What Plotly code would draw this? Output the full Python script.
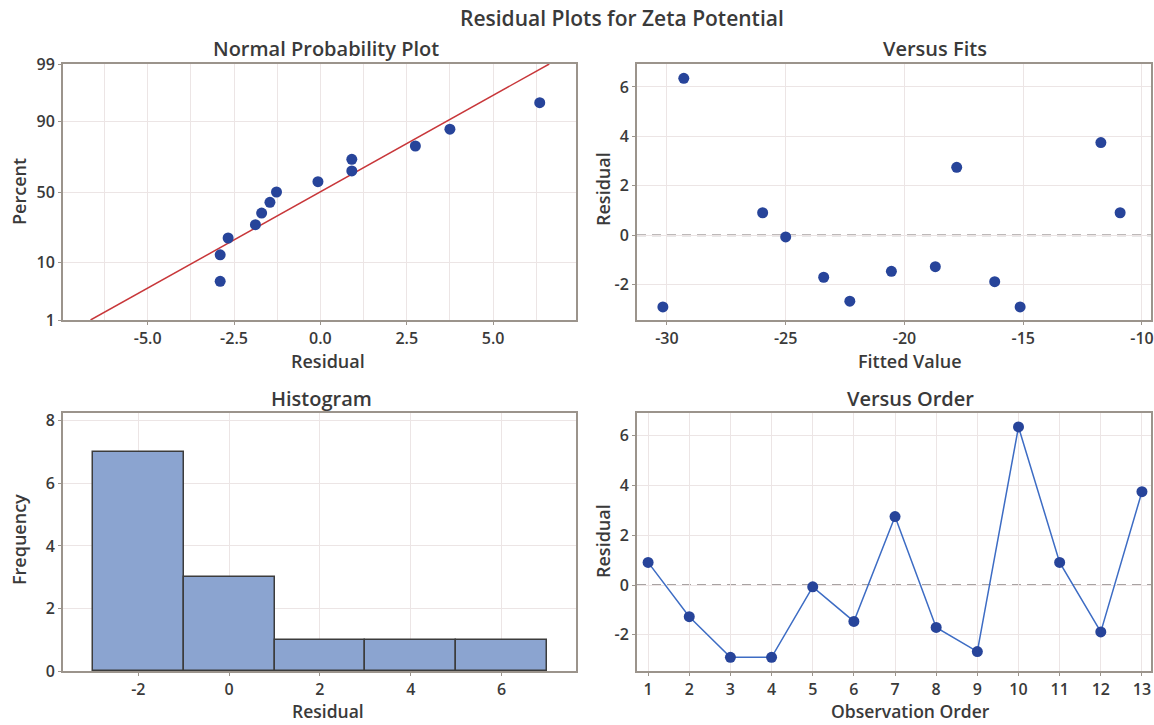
import plotly.graph_objects as go
from statistics import NormalDist, mean, stdev

# ---------------- data ----------------
observation = list(range(1, 14))
residuals = [0.91, -1.27, -2.90, -2.90, -0.07, -1.46, 2.75, -1.70, -2.67, 6.35, 0.91, -1.88, 3.75]
fitted = [-25.97, -18.70, -30.17, -15.13, -25.00, -20.55, -17.80, -23.40, -22.30, -29.29, -10.92, -16.20, -11.73]
percent_ticks = [1, 10, 50, 90, 99]
hist_bin_start = -3
hist_bin_end = 7
hist_bin_size = 2
hist_ticks = [-2, 0, 2, 4, 6]
npp_ticks = [-5.0, -2.5, 0.0, 2.5, 5.0]
fit_ticks = [-30, -25, -20, -15, -10]
res_ticks = [-2, 0, 2, 4, 6]
freq_ticks = [0, 2, 4, 6, 8]

# normal probability plot positions (Benard median ranks)
nd = NormalDist()
n = len(residuals)
sorted_res = sorted(residuals)
npp_z = [nd.inv_cdf((i - 0.3) / (n + 0.4)) for i in range(1, n + 1)]
tick_z = [nd.inv_cdf(p / 100) for p in percent_ticks]
mu, sd = mean(residuals), stdev(residuals)
line_z = [nd.inv_cdf(0.01), nd.inv_cdf(0.99)]
line_x = [mu + sd * z for z in line_z]


def lab(v, fmt="{:g}"):
    return fmt.format(v).replace("\u2212", "-")


# ---------------- style ----------------
FONT = "Open Sans"
TXT = "#3a3a3a"
BORDER = "#9b948c"
GRID = "#ece5e5"
PT = "#27449a"
W, H = 1154, 725


def px_x(v):
    return v / W


def px_y(v):
    return 1 - v / H


def axis(**kw):
    d = dict(showline=True, linecolor=BORDER, linewidth=2, mirror=True,
             showgrid=True, gridcolor=GRID, gridwidth=1, zeroline=False,
             ticks="outside", ticklen=3, tickcolor=BORDER, tickwidth=1,
             tickfont=dict(family=FONT, size=16, color=TXT, weight=600),
             ticklabeloverflow="allow",
             automargin=False, fixedrange=True)
    d.update(kw)
    return d


fig = go.Figure()

# Normal probability plot
fig.add_trace(go.Scatter(x=line_x, y=line_z, mode="lines",
                         line=dict(color="#c8373a", width=1.5),
                         xaxis="x", yaxis="y", showlegend=False))
fig.add_trace(go.Scatter(x=sorted_res, y=npp_z, mode="markers",
                         marker=dict(color=PT, size=11, symbol="circle"),
                         xaxis="x", yaxis="y", showlegend=False))

# Versus fits
fig.add_trace(go.Scatter(x=fitted, y=residuals, mode="markers",
                         marker=dict(color=PT, size=11, symbol="circle"),
                         xaxis="x2", yaxis="y2", showlegend=False))

# Histogram
fig.add_trace(go.Histogram(x=residuals,
                           xbins=dict(start=hist_bin_start, end=hist_bin_end, size=hist_bin_size),
                           marker=dict(color="#8ba4d0", line=dict(color="#3c3c3c", width=1.5)),
                           xaxis="x3", yaxis="y3", showlegend=False))

# Versus order
fig.add_trace(go.Scatter(x=observation, y=residuals, mode="lines+markers",
                         line=dict(color="#3d6cc4", width=1.5),
                         marker=dict(color=PT, size=11, symbol="circle"),
                         xaxis="x4", yaxis="y4", showlegend=False))

# zero reference lines
for xr, yr in (("x2", "y2"), ("x4", "y4")):
    fig.add_shape(type="line", xref=f"{xr} domain", yref=yr, x0=0, x1=1, y0=0, y1=0,
                  line=dict(color="#a8a3a3", width=2, dash="9px,6px"), layer="below")

dom_top = [px_y(320), px_y(64)]
dom_bot = [px_y(671), px_y(413)]
dom_left = [px_x(63), px_x(576)]
dom_right = [px_x(637), px_x(1151)]

fig.update_layout(
    width=W, height=H,
    margin=dict(l=0, r=0, t=0, b=0),
    paper_bgcolor="white", plot_bgcolor="white",
    bargap=0,
    showlegend=False,
    xaxis=axis(domain=dom_left, anchor="y", range=[-7.45, 7.4],
               tickvals=npp_ticks, ticktext=[lab(v, "{:.1f}") for v in npp_ticks],
               minor=dict(dtick=1.25, showgrid=True, gridcolor=GRID, ticks="")),
    yaxis=axis(domain=dom_top, anchor="x", range=[tick_z[0], tick_z[-1]],
               tickvals=tick_z, ticktext=[str(p) for p in percent_ticks]),
    xaxis2=axis(domain=dom_right, anchor="y2", range=[-31.26, -9.62],
                tickvals=fit_ticks, ticktext=[lab(v) for v in fit_ticks]),
    yaxis2=axis(domain=dom_top, anchor="x2", range=[-3.43, 6.93],
                tickvals=res_ticks, ticktext=[lab(v) for v in res_ticks]),
    xaxis3=axis(domain=dom_left, anchor="y3", range=[-3.66, 7.64],
                tickvals=hist_ticks, ticktext=[lab(v) for v in hist_ticks]),
    yaxis3=axis(domain=dom_bot, anchor="x3", range=[0, 8.25],
                tickvals=freq_ticks, ticktext=[lab(v) for v in freq_ticks]),
    xaxis4=axis(domain=dom_right, anchor="y4", range=[0.73, 13.22],
                tickvals=observation, ticktext=[lab(v) for v in observation]),
    yaxis4=axis(domain=dom_bot, anchor="x4", range=[-3.45, 6.91],
                tickvals=res_ticks, ticktext=[lab(v) for v in res_ticks]),
)


def note(text, x, y, size=18, angle=0, yanchor="middle"):
    fig.add_annotation(text=text, x=px_x(x), y=px_y(y), xref="paper", yref="paper",
                       showarrow=False, textangle=angle, xanchor="center", yanchor=yanchor,
                       font=dict(family=FONT, size=size, color=TXT, weight=600))


note("Residual Plots for Zeta Potential", 622, 18, size=21)
note("Normal Probability Plot", 326, 48, size=20)
note("Versus Fits", 935, 48, size=20)
note("Histogram", 321, 398, size=20)
note("Versus Order", 910, 398, size=20)

note("Percent", 19, 192, angle=-90)
note("Residual", 328, 361)
note("Residual", 603, 189, angle=-90)
note("Fitted Value", 910, 361)
note("Frequency", 19, 540, angle=-90)
note("Residual", 328, 725, size=17.5, yanchor="bottom")
note("Residual", 603, 541, angle=-90)
note("Observation Order", 910, 725, size=17.5, yanchor="bottom")

fig.write_html("out.html")
